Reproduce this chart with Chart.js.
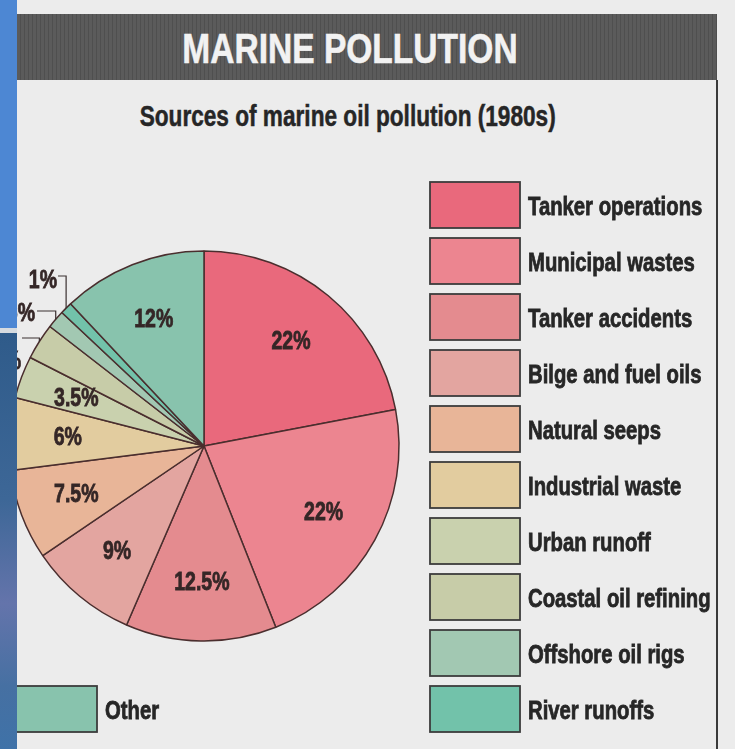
<!DOCTYPE html>
<html>
<head>
<meta charset="utf-8">
<title>Marine pollution</title>
<script src="https://cdn.jsdelivr.net/npm/chart.js@4.4.1/dist/chart.umd.min.js"></script>
<style>
  html, body { margin: 0; padding: 0; }
  body {
    width: 735px; height: 749px; position: relative; overflow: hidden;
    background: #ececec;
    font-family: 'Liberation Sans', Arial, sans-serif;
    font-weight: bold;
  }
  /* Liberation Sans squeezed sideways stands in for a condensed face */
  .squeeze { display: inline-block; transform: scaleX(0.78); transform-origin: center; white-space: nowrap; }
  #band {
    position: absolute; left: 17px; top: 14px; width: 700px; height: 66px;
    background: repeating-linear-gradient(90deg, #5b5b5b 0 3px, #4f4f4f 3px 4px);
  }
  #band h1 {
    margin: 0; position: absolute; left: 0; right: 34px; top: 0;
    line-height: 68px; text-align: center; color: #f2f2f2; font-size: 43px;
    -webkit-text-stroke: 0.6px #f2f2f2;
  }
  #sub {
    position: absolute; left: 0; width: 696px; top: 99px;
    text-align: center; color: #262626; font-size: 29px; line-height: 34px;
    -webkit-text-stroke: 0.5px #262626;
  }
  #frame { position: absolute; left: 716px; top: 80px; width: 2px; height: 669px; background: #3a3a3a; }
  #pie { position: absolute; left: 0; top: 0; z-index: 1; }
  .edge { position: absolute; left: 0; width: 17px; z-index: 2; }
  #edgeTop { top: 0; height: 328px; background: #4d87d3; }
  #edgeGap { top: 328px; height: 5px; background: #d6dbe0; }
  #edgeLow { top: 333px; height: 416px; background: linear-gradient(180deg, #2f5b8a 0%, #3d6797 40%, #6474ab 65%, #4670a2 85%, #3f72a8 100%); }
</style>
</head>
<body>
<div id="band"><h1><span class="squeeze">MARINE POLLUTION</span></h1></div>
<div id="sub"><span class="squeeze">Sources of marine oil pollution (1980s)</span></div>
<div id="frame"></div>
<canvas id="pie" width="735" height="749"></canvas>
<div class="edge" id="edgeTop"></div>
<div class="edge" id="edgeGap"></div>
<div class="edge" id="edgeLow"></div>
<script>
const sources = [
  'Tanker operations', 'Municipal wastes', 'Tanker accidents', 'Bilge and fuel oils',
  'Natural seeps', 'Industrial waste', 'Urban runoff', 'Coastal oil refining',
  'Offshore oil rigs', 'River runoffs', 'Other'
];
const shares = [22, 22, 12.5, 9, 7.5, 6, 3.5, 3, 1.5, 1, 12];
const fills = [
  '#e9697c', '#ec8590', '#e48b8f', '#e3a5a0', '#e8b598', '#e2cc9f',
  '#c9d1ae', '#c7cca8', '#a2c8b2', '#72c2aa', '#88c3ad'
];

const SQUEEZE = 0.78;

// squeezed, slightly heavier text
function squeezedText(ctx, text, x, y) {
  ctx.save();
  ctx.translate(x, y);
  ctx.scale(SQUEEZE, 1);
  ctx.lineWidth = 0.8;
  ctx.strokeStyle = ctx.fillStyle;
  ctx.strokeText(text, 0, 0);
  ctx.fillText(text, 0, 0);
  ctx.restore();
}

// thin slices get their label outside, hooked to the rim by a short leader
const callouts = {
  7: { lineY: 338, endX: 22, textX: 21, textY: 362 },
  8: { lineY: 311, endX: 37, textX: 35, textY: 314 },
  9: { lineY: 276, endX: 58, textX: 57, textY: 281 }
};

const sliceLabels = {
  id: 'sliceLabels',
  afterDatasetsDraw(chart) {
    const ctx = chart.ctx;
    const arcs = chart.getDatasetMeta(0).data;
    ctx.save();
    ctx.font = "bold 25px 'Liberation Sans', Arial, sans-serif";
    ctx.textBaseline = 'middle';
    arcs.forEach((arc, i) => {
      const mid = (arc.startAngle + arc.endAngle) / 2;
      const text = shares[i] + '%';
      const c = callouts[i];
      ctx.fillStyle = '#342626';
      if (!c) {
        const r = arc.outerRadius * 0.7;
        ctx.textAlign = 'center';
        squeezedText(ctx, text, arc.x + Math.cos(mid) * r, arc.y + Math.sin(mid) * r + 1);
        return;
      }
      const rx = arc.x + Math.cos(mid) * arc.outerRadius;
      const ry = arc.y + Math.sin(mid) * arc.outerRadius;
      ctx.strokeStyle = '#3a3030';
      ctx.lineWidth = 1.2;
      ctx.beginPath();
      ctx.moveTo(rx, ry);
      ctx.lineTo(rx, c.lineY);
      ctx.lineTo(c.endX, c.lineY);
      ctx.stroke();
      ctx.textAlign = 'right';
      squeezedText(ctx, text, c.textX, c.textY);
    });
    ctx.restore();
  }
};

// key: ten boxes down the right side, "Other" on its own at the bottom left
const keyBoxes = {
  id: 'keyBoxes',
  afterDraw(chart) {
    const ctx = chart.ctx;
    const names = chart.data.labels;
    const colors = chart.data.datasets[0].backgroundColor;
    ctx.save();
    ctx.font = "bold 26px 'Liberation Sans', Arial, sans-serif";
    ctx.textBaseline = 'middle';
    ctx.textAlign = 'left';
    names.forEach((name, i) => {
      const x = i < 10 ? 430 : 7;
      const y = i < 10 ? 182 + i * 56 : 686;
      ctx.fillStyle = colors[i];
      ctx.fillRect(x, y, 90, 46);
      ctx.strokeStyle = '#3c3c3c';
      ctx.lineWidth = 1.8;
      ctx.strokeRect(x, y, 90, 46);
      ctx.fillStyle = '#262626';
      squeezedText(ctx, name, x + 98, y + 26);
    });
    ctx.restore();
  }
};

new Chart(document.getElementById('pie'), {
  type: 'pie',
  data: {
    labels: sources,
    datasets: [{
      data: shares,
      backgroundColor: fills,
      borderColor: '#4a2e2e',
      borderWidth: 1.5,
      radius: 195
    }]
  },
  options: {
    responsive: false,
    animation: false,
    layout: { padding: { left: 4, top: 246, right: 331, bottom: 103 } },
    plugins: {
      legend: { display: false },
      tooltip: { enabled: false }
    }
  },
  plugins: [sliceLabels, keyBoxes]
});
</script>
</body>
</html>
